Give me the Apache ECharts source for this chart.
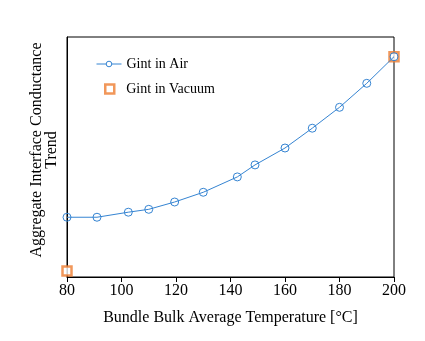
<!DOCTYPE html>
<html>
<head>
<meta charset="utf-8">
<script src="https://cdn.jsdelivr.net/npm/echarts@6/dist/echarts.min.js"></script>
<style>html,body{margin:0;padding:0;background:#fff}#c{width:425px;height:341px}</style>
</head>
<body>
<div id="c"></div>
<script>
var airTemps = [80, 91, 102.5, 110, 119.5, 130, 142.5, 149, 160, 170, 180, 190, 200];
var airValues = [0.249, 0.249, 0.270, 0.282, 0.3125, 0.353, 0.417, 0.467, 0.5375, 0.62, 0.707, 0.807, 0.918];
var vacuumTemps = [80, 200];
var vacuumValues = [0.025, 0.918];
var xTicks = [80, 100, 120, 140, 160, 180, 200];
var seriesNames = ['Gint in Air', 'Gint in Vacuum'];

var font = '"Liberation Serif", "DejaVu Serif", serif';
var blue = '#3584D2';
var orange = '#ED7D31';
var chart = echarts.init(document.getElementById('c'), null, {renderer: 'canvas'});
chart.setOption({
  animation: false,
  backgroundColor: '#fff',
  grid: {left: 67, right: 31, top: 37, bottom: 64, show: true, borderColor: '#000', borderWidth: 1},
  legend: [
    {
      orient: 'vertical', left: 96, top: 57, padding: 0,
      itemWidth: 25, itemHeight: 7,
      textStyle: {fontFamily: font, fontSize: 14, color: '#000'},
      data: [{
        name: seriesNames[0],
        itemStyle: {color: '#fff', borderColor: blue, borderWidth: 1},
        lineStyle: {color: blue, width: 1}
      }]
    },
    {
      orient: 'vertical', left: 104, top: 82, padding: 0,
      itemWidth: 9, itemHeight: 9,
      textStyle: {fontFamily: font, fontSize: 14, color: '#000', padding: [0, 0, 0, 7]},
      data: [{name: seriesNames[1], icon: 'rect', itemStyle: {color: '#fff', borderColor: orange, borderWidth: 2.5}}]
    }
  ],
  xAxis: {
    type: 'value', min: xTicks[0], max: xTicks[xTicks.length - 1], interval: 20,
    name: 'Bundle Bulk Average Temperature [°C]', nameLocation: 'middle', nameGap: 33,
    nameTextStyle: {fontFamily: font, fontSize: 16, color: '#000'},
    axisLine: {lineStyle: {color: '#000'}},
    axisTick: {show: true, inside: false, length: 5, lineStyle: {color: '#000'}},
    axisLabel: {fontFamily: font, fontSize: 16, color: '#000', margin: 6},
    splitLine: {show: false}
  },
  yAxis: {
    type: 'value', min: 0, max: 1,
    name: 'Aggregate Interface Conductance\nTrend', nameLocation: 'middle', nameGap: 8,
    nameTextStyle: {fontFamily: font, fontSize: 16, color: '#000', lineHeight: 15, padding: [0, 0, 0, 14]},
    axisLine: {show: true, lineStyle: {color: '#000'}},
    axisTick: {show: false},
    axisLabel: {show: false},
    splitLine: {show: false}
  },
  series: [
    {
      name: seriesNames[0], type: 'line',
      data: airTemps.map(function (t, i) { return [t, airValues[i]]; }),
      symbol: 'circle', symbolSize: 8,
      lineStyle: {color: blue, width: 1},
      itemStyle: {color: 'rgba(255,255,255,0)', borderColor: blue, borderWidth: 1},
      clip: false, z: 6
    },
    {
      name: seriesNames[1], type: 'scatter',
      data: vacuumTemps.map(function (t, i) { return [t, vacuumValues[i]]; }),
      symbol: 'rect', symbolSize: 9,
      itemStyle: {color: '#fff', borderColor: orange, borderWidth: 2.5},
      clip: false, z: 5
    }
  ]
});
</script>
</body>
</html>
